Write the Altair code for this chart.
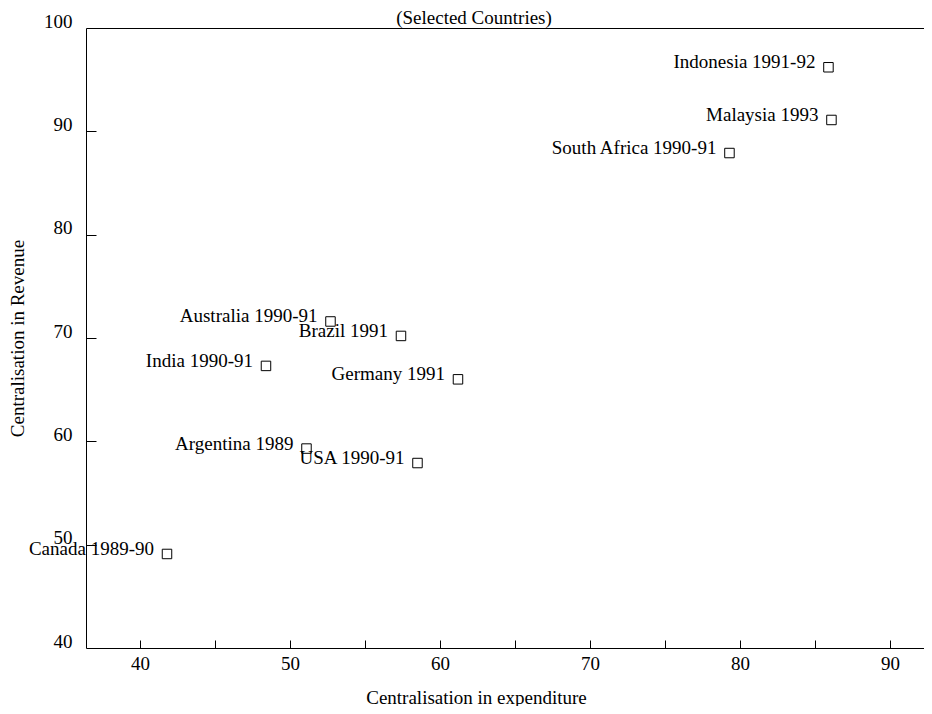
import altair as alt
import pandas as pd

countries = ["Indonesia 1991-92", "Malaysia 1993", "South Africa 1990-91",
             "Australia 1990-91", "Brazil 1991", "India 1990-91", "Germany 1991",
             "Argentina 1989", "USA 1990-91", "Canada 1989-90"]
expenditure = [85.9, 86.1, 79.3, 52.7, 57.4, 48.4, 61.2, 51.1, 58.5, 41.8]
revenue = [96.2, 91.1, 87.9, 71.6, 70.2, 67.3, 66.0, 59.3, 57.9, 49.1]

x_label_values = [40, 50, 60, 70, 80, 90]
x_tick_values = [40, 45, 50, 55, 60, 65, 70, 75, 80, 85, 90]
y_label_values = [40, 50, 60, 70, 80, 90, 100]
y_tick_values = [50, 60, 70, 80, 90]

df = pd.DataFrame({"country": countries, "exp": expenditure, "rev": revenue})

FONT = "Liberation Serif"
FS = 19
xs = alt.Scale(domain=[36.4, 92.27], nice=False, zero=False)
ys = alt.Scale(domain=[40, 100], nice=False, zero=False)

base = alt.Chart(df)

points = base.mark_point(shape="square", size=90, filled=False, color="black",
                         strokeWidth=1, opacity=1).encode(
    x=alt.X("exp:Q", scale=xs,
            axis=alt.Axis(orient="bottom", values=x_label_values, ticks=False, tickSize=0,
                          domain=True, domainColor="black", domainWidth=1,
                          labelPadding=6, labelFont=FONT, labelFontSize=FS, labelColor="black",
                          title="Centralisation in expenditure", titleFont=FONT,
                          titleFontSize=FS, titleFontWeight="normal", titleColor="black",
                          titlePadding=15, titleX=390, grid=False)),
    y=alt.Y("rev:Q", scale=ys,
            axis=alt.Axis(orient="left", values=y_label_values, ticks=False, tickSize=0,
                          domain=True, domainColor="black", domainWidth=1,
                          labelPadding=14, labelOffset=-7, labelFont=FONT, labelFontSize=FS,
                          labelColor="black",
                          title="Centralisation in Revenue", titleFont=FONT,
                          titleFontSize=FS, titleFontWeight="normal", titleColor="black",
                          titlePadding=16, grid=False)),
)

labels = base.mark_text(align="right", baseline="middle", dx=-13, dy=-5, font=FONT,
                        fontSize=FS, color="black").encode(
    x=alt.X("exp:Q", scale=xs),
    y=alt.Y("rev:Q", scale=ys),
    text="country:N",
)

main = alt.layer(points, labels)

inner_ticks = base.mark_point(opacity=0).encode(
    x=alt.X("exp:Q", scale=xs,
            axis=alt.Axis(orient="bottom", offset=-8, tickSize=8, tickColor="black",
                          domain=False, labels=False, title=None, values=x_tick_values,
                          grid=False)),
    y=alt.Y("rev:Q", scale=ys,
            axis=alt.Axis(orient="left", offset=-10, tickSize=10, tickColor="black",
                          domain=False, labels=False, title=None, values=y_tick_values,
                          grid=False)),
)

top_border = base.mark_point(opacity=0).encode(
    x=alt.X("exp:Q", scale=xs,
            axis=alt.Axis(orient="top", domain=True, domainColor="black", ticks=False,
                          labels=False, title=None, grid=False)),
    y=alt.Y("rev:Q", scale=ys, axis=None),
)

chart = alt.layer(main, inner_ticks, top_border).resolve_axis(
    x="independent", y="independent"
).properties(
    width=838, height=620,
    background="white",
    autosize=alt.AutoSizeParams(type="none"),
    padding={"left": 78, "top": 20, "right": 0, "bottom": 58},
    title=alt.Title("(Selected Countries)", font=FONT, fontSize=FS, fontWeight="normal",
                    color="black", anchor="middle", frame="group", offset=1, dx=-31, dy=17),
).configure_view(stroke=None)

chart.save("out.html", embed_options={"renderer": "svg", "actions": False})
